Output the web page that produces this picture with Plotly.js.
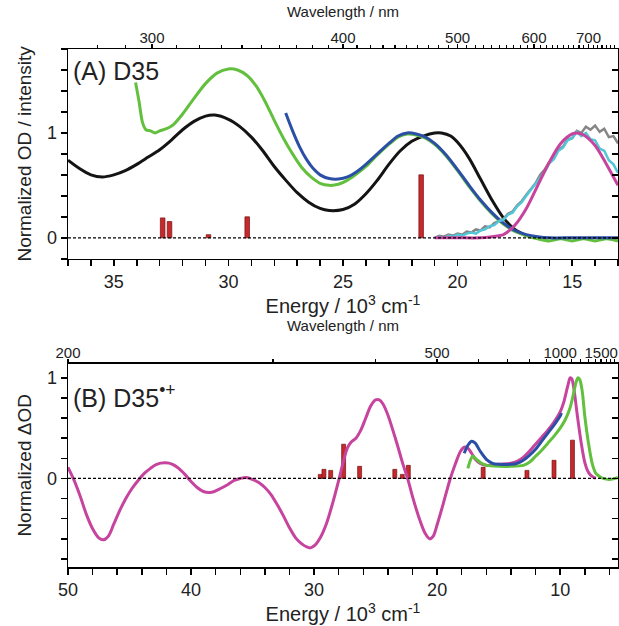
<!DOCTYPE html>
<html><head><meta charset="utf-8">
<script src="https://cdn.plot.ly/plotly-3.0.1.min.js"></script>
<style>html,body{margin:0;padding:0;background:#fff}#c{width:619px;height:626px}</style>
</head><body><div id="c"></div>
<script>
// ---------- Panel A : D35 ----------
const blackE = [37.0,36.5,36.0,35.5,35.0,34.5,34.0,33.5,33.0,32.5,32.0,31.5,31.0,30.6,30.0,29.5,29.0,28.5,28.0,27.5,27.0,26.5,26.0,25.6,25.0,24.5,24.0,23.5,23.0,22.5,22.0,21.5,21.0,20.7,20.3,20.0,19.5,19.0,18.5,18.0,17.5,17.0];
const blackY = [0.74,0.66,0.60,0.58,0.60,0.64,0.70,0.77,0.84,0.93,1.03,1.11,1.16,1.17,1.13,1.06,0.96,0.83,0.68,0.55,0.43,0.34,0.28,0.26,0.27,0.32,0.42,0.55,0.70,0.83,0.92,0.97,1.00,1.00,0.97,0.91,0.76,0.56,0.36,0.19,0.08,0.02];

const greenAE = [34.05,33.9,33.75,33.6,33.4,33.2,33.0,32.7,32.4,32.0,31.5,31.0,30.5,30.0,29.6,29.2,28.8,28.4,28.0,27.6,27.2,26.8,26.4,26.0,25.6,25.2,24.8,24.4,24.0,23.5,23.0,22.6,22.2,21.8,21.4,21.0,20.5,20.0,19.5,19.0,18.5,18.0,17.5,17.0,16.5,16.0,15.5,15.0,14.5,14.0,13.5,13.0];
const greenAY = [1.48,1.30,1.10,1.03,1.02,1.00,1.02,1.04,1.08,1.18,1.33,1.47,1.57,1.61,1.60,1.55,1.45,1.30,1.12,0.95,0.80,0.67,0.58,0.52,0.50,0.51,0.55,0.61,0.68,0.79,0.89,0.96,0.99,0.98,0.95,0.89,0.78,0.64,0.49,0.35,0.23,0.13,0.06,0.02,-0.01,-0.03,-0.01,-0.03,-0.01,-0.03,-0.01,-0.03];

const blueAE = [27.5,27.2,26.9,26.6,26.3,26.0,25.6,25.2,24.8,24.4,24.0,23.5,23.0,22.6,22.2,21.8,21.4,21.0,20.5,20.0,19.5,19.0,18.5,18.0,17.5,17.0,16.5,16.0,15.0,14.0,13.0];
const blueAY = [1.19,1.02,0.87,0.75,0.66,0.60,0.565,0.56,0.58,0.63,0.70,0.80,0.90,0.97,1.00,0.99,0.96,0.90,0.79,0.65,0.50,0.36,0.24,0.14,0.07,0.03,0.01,0.00,0.00,0.00,0.00];

const emisE = [21.0,20.8,20.6,20.4,20.2,20.0,19.8,19.6,19.4,19.2,19.0,18.8,18.6,18.4,18.2,18.0,17.8,17.6,17.4,17.2,17.0,16.8,16.6,16.4,16.2,16.0,15.8,15.6,15.4,15.2,15.0,14.8,14.6,14.4,14.2,14.0,13.8,13.6,13.4,13.2,13.0];
const grayY = [0.00,0.02,0.01,0.03,0.02,0.04,0.03,0.06,0.05,0.08,0.07,0.11,0.10,0.14,0.16,0.18,0.23,0.25,0.31,0.35,0.41,0.47,0.52,0.60,0.65,0.72,0.77,0.84,0.87,0.94,0.95,1.02,1.00,1.06,1.03,1.07,1.01,1.04,0.96,0.97,0.90];
const cyanY = [0.00,0.01,0.00,0.02,0.01,0.03,0.02,0.04,0.05,0.04,0.07,0.08,0.11,0.12,0.16,0.17,0.22,0.24,0.30,0.34,0.40,0.46,0.51,0.58,0.63,0.71,0.75,0.83,0.86,0.93,0.95,1.01,0.97,1.00,0.94,0.93,0.85,0.83,0.74,0.70,0.62];

const magAE = [21.0,20.0,19.0,18.5,18.2,18.0,17.5,17.0,16.5,16.0,15.5,15.0,14.8,14.5,14.0,13.5,13.0];
const magAY = [0.00,0.00,0.00,0.01,0.02,0.03,0.12,0.28,0.50,0.72,0.90,0.99,1.00,0.98,0.88,0.70,0.50];

const barsAE = [32.87,32.57,30.87,29.18,21.59];
const barsAY = [0.19,0.155,0.03,0.20,0.60];

// ---------- Panel B : D35 radical cation ----------
const magBE = [50.0,49.5,49.0,48.5,48.0,47.5,47.1,46.7,46.3,45.8,45.3,44.8,44.3,43.8,43.3,42.8,42.1,41.5,41.0,40.5,40.0,39.5,39.0,38.5,38.1,37.6,37.0,36.5,36.0,35.5,35.0,34.5,34.0,33.5,33.0,32.5,32.0,31.5,31.0,30.6,30.3,29.9,29.5,29.0,28.5,28.0,27.6,27.3,27.0,26.6,26.2,25.8,25.4,25.0,24.7,24.4,24.0,23.6,23.2,22.8,22.4,22.0,21.5,21.0,20.6,20.3,20.0,19.5,19.0,18.5,18.1,17.8,17.5,17.2,16.9,16.5,16.0,15.0,14.0,13.5,13.0,12.5,12.0,11.5,11.0,10.5,10.0,9.7,9.5,9.3,9.2,9.05,8.85,8.6,8.3,8.0,7.7,7.4,7.1];
const magBY = [0.11,-0.02,-0.18,-0.36,-0.50,-0.59,-0.61,-0.57,-0.46,-0.32,-0.20,-0.10,-0.02,0.05,0.10,0.14,0.155,0.14,0.10,0.04,-0.03,-0.09,-0.13,-0.14,-0.13,-0.10,-0.06,-0.02,0.00,0.01,-0.01,-0.04,-0.09,-0.16,-0.26,-0.37,-0.49,-0.59,-0.65,-0.68,-0.69,-0.66,-0.59,-0.45,-0.25,-0.02,0.18,0.30,0.36,0.40,0.48,0.60,0.72,0.78,0.78,0.74,0.63,0.48,0.32,0.15,0.00,-0.18,-0.38,-0.54,-0.60,-0.57,-0.46,-0.25,-0.03,0.15,0.27,0.31,0.30,0.25,0.19,0.15,0.13,0.14,0.15,0.17,0.21,0.27,0.34,0.41,0.48,0.56,0.66,0.76,0.86,0.96,1.00,0.99,0.86,0.62,0.36,0.16,0.06,0.02,0.00];

const greenBE = [17.5,17.3,17.1,16.8,16.4,16.0,15.0,14.0,13.0,12.5,12.0,11.5,11.0,10.5,10.0,9.6,9.2,8.9,8.7,8.55,8.4,8.2,8.0,7.7,7.4,7.1,6.8,6.5,6.0,5.5,5.3];
const greenBY = [0.10,0.18,0.22,0.19,0.15,0.13,0.12,0.12,0.13,0.16,0.22,0.28,0.35,0.42,0.50,0.58,0.70,0.85,0.96,1.00,0.98,0.86,0.62,0.35,0.15,0.05,0.02,0.00,-0.01,0.00,0.01];

const blueBE = [17.8,17.5,17.2,16.9,16.5,16.0,15.5,15.0,14.0,13.5,13.0,12.5,12.0,11.5,11.0,10.5,10.0,9.9];
const blueBY = [0.25,0.33,0.37,0.35,0.27,0.19,0.15,0.14,0.14,0.15,0.18,0.23,0.29,0.37,0.45,0.53,0.62,0.65];

const barsBE = [29.5,29.2,28.65,27.6,26.3,23.44,22.83,22.34,16.26,12.7,10.5,9.0];
const barsBY = [0.04,0.09,0.08,0.34,0.12,0.09,0.04,0.13,0.11,0.08,0.18,0.38];

// ---------- Tick labels (wavelength, nm) ----------
const wlMajorA = [300,400,500,600,700];
const wlMinorA = [];
for (let n = 270; n <= 760; n += 10) if (wlMajorA.indexOf(n) < 0) wlMinorA.push(n);
const wlMajorB = [200,500,1000,1500];
const wlMinorB = [300,400,600,700,800,900,1100,1200,1300,1400,1600,1700,1800];

const toE = nm => 1e4 / nm;   // 10^3 cm^-1

const FONT = 'Liberation Sans, Arial, sans-serif';
const C = {black:'#141414', green:'#62c03e', blue:'#2c4fa6', gray:'#858585', cyan:'#52c6d6', mag:'#c6449e', bar:'#c8282c'};

function line(x, y, color, xa, ya, w, shape) {
  return {x, y, xaxis: xa, yaxis: ya, type: 'scatter', mode: 'lines',
    line: {color, width: w || 3, shape: shape || 'spline', smoothing: 0.8}, hoverinfo: 'skip', showlegend: false};
}
function bars(x, y, xa, ya, w) {
  return {x, y, xaxis: xa, yaxis: ya, type: 'bar', width: w,
    marker: {color: C.bar, line: {color: '#6e1414', width: 0.7}}, hoverinfo: 'skip', showlegend: false};
}

const data = [
  bars(barsAE, barsAY, 'x', 'y', 0.2),
  line(blackE, blackY, C.black, 'x', 'y'),
  line(greenAE, greenAY, C.green, 'x', 'y'),
  line(blueAE, blueAY, C.blue, 'x', 'y'),
  line(emisE, grayY, C.gray, 'x', 'y', 2.5, 'linear'),
  line(emisE, cyanY, C.cyan, 'x', 'y', 2.5, 'linear'),
  line(magAE, magAY, C.mag, 'x2', 'y3'),
  bars(barsBE, barsBY, 'x3', 'y2', 0.32),
  line(magBE, magBY, C.mag, 'x3', 'y2'),
  line(greenBE, greenBY, C.green, 'x3', 'y2'),
  line(blueBE, blueBY, C.blue, 'x4', 'y4')
];

const axBase = {showline: true, linecolor: '#000', linewidth: 1.5, showgrid: false, zeroline: false,
  ticks: 'outside', tickcolor: '#000', tickwidth: 1.5, ticklen: 6, tickfont: {family: FONT, size: 18, color: '#222'}};

const dom = {top: [0.595, 1], bot: [0, 0.3925]};

const layout = {
  width: 619, height: 626,
  margin: {l: 67.5, r: 1, t: 48.5, b: 59.3},
  paper_bgcolor: '#fff', plot_bgcolor: '#fff',
  font: {family: FONT, color: '#222'},
  barmode: 'overlay',
  showlegend: false,
  xaxis: Object.assign({}, axBase, {anchor: 'y', range: [37, 13], tick0: 0, dtick: 5,
    minor: {dtick: 1, tick0: 0, ticks: 'outside', ticklen: 6, tickcolor: '#000', tickwidth: 1.5},
    title: {text: 'Energy / 10<sup>3</sup> cm<sup>-1</sup>', font: {family: FONT, size: 20, color: '#222'}, standoff: 4}}),
  xaxis2: Object.assign({}, axBase, {anchor: 'y', overlaying: 'x', side: 'top', range: [37, 13],
    tickmode: 'array', tickvals: wlMajorA.map(toE), ticktext: wlMajorA.map(String), ticklen: 3.5,
    ticklabelstandoff: -5,
    tickfont: {family: FONT, size: 15, color: '#222'},
    minor: {tickmode: 'array', tickvals: wlMinorA.map(toE), ticks: 'outside', ticklen: 2.5, tickcolor: '#000', tickwidth: 1.2},
    title: {text: 'Wavelength / nm', font: {family: FONT, size: 15, color: '#222'}, standoff: 8}}),
  yaxis: Object.assign({}, axBase, {domain: dom.top, anchor: 'x', range: [-0.2, 1.8],
    tickmode: 'array', tickvals: [0, 1], ticktext: ['0', '1'],
    minor: {dtick: 0.2, tick0: 0, ticks: 'outside', ticklen: 6, tickcolor: '#000', tickwidth: 1.5},
    title: {text: 'Normalized OD / intensity', font: {family: FONT, size: 19, color: '#222'}, standoff: 10}}),
  yaxis3: Object.assign({}, axBase, {anchor: 'x', overlaying: 'y', side: 'right', range: [-0.2, 1.8],
    ticks: 'inside', dtick: 0.2, tick0: 0, ticklen: 6, showticklabels: false}),

  xaxis3: Object.assign({}, axBase, {anchor: 'y2', range: [50, 5.3], tick0: 0, dtick: 10,
    minor: {dtick: 2, tick0: 0, ticks: 'outside', ticklen: 6, tickcolor: '#000', tickwidth: 1.5},
    title: {text: 'Energy / 10<sup>3</sup> cm<sup>-1</sup>', font: {family: FONT, size: 20, color: '#222'}, standoff: 4}}),
  xaxis4: Object.assign({}, axBase, {anchor: 'y2', overlaying: 'x3', side: 'top', range: [50, 5.3],
    tickmode: 'array', tickvals: wlMajorB.map(toE), ticktext: wlMajorB.map(String), ticklen: 3.5,
    ticklabelstandoff: -5,
    tickfont: {family: FONT, size: 15, color: '#222'},
    minor: {tickmode: 'array', tickvals: wlMinorB.map(toE), ticks: 'outside', ticklen: 3, tickcolor: '#000', tickwidth: 1.2},
    title: {text: 'Wavelength / nm', font: {family: FONT, size: 15, color: '#222'}, standoff: 8}}),
  yaxis2: Object.assign({}, axBase, {domain: dom.bot, anchor: 'x3', range: [-0.88, 1.14],
    tickmode: 'array', tickvals: [0, 1], ticktext: ['0', '1'],
    minor: {dtick: 0.2, tick0: 0, ticks: 'outside', ticklen: 6, tickcolor: '#000', tickwidth: 1.5},
    title: {text: 'Normalized \u0394OD', font: {family: FONT, size: 19, color: '#222'}, standoff: 10}}),
  yaxis4: Object.assign({}, axBase, {anchor: 'x3', overlaying: 'y2', side: 'right', range: [-0.88, 1.14],
    ticks: 'inside', dtick: 0.2, tick0: 0, ticklen: 6, showticklabels: false}),

  shapes: [
    {type: 'line', xref: 'x domain', yref: 'y', x0: 0, x1: 1, y0: 0, y1: 0, line: {color: '#000', width: 1.2, dash: '3px,2px'}},
    {type: 'line', xref: 'x3 domain', yref: 'y2', x0: 0, x1: 1, y0: 0, y1: 0, line: {color: '#000', width: 1.2, dash: '3px,2px'}}
  ],
  annotations: [
    {xref: 'x domain', yref: 'y domain', x: 0.005, y: 0.895, xanchor: 'left', yanchor: 'middle', showarrow: false,
     text: '(A) D35', font: {family: FONT, size: 25, color: '#222'}},
    {xref: 'x3 domain', yref: 'y2 domain', x: 0.005, y: 0.84, xanchor: 'left', yanchor: 'middle', showarrow: false,
     text: '(B) D35<sup>\u2022+</sup>', font: {family: FONT, size: 25, color: '#222'}}
  ]
};

Plotly.newPlot('c', data, layout, {staticPlot: true, displayModeBar: false});
</script>
</body></html>
